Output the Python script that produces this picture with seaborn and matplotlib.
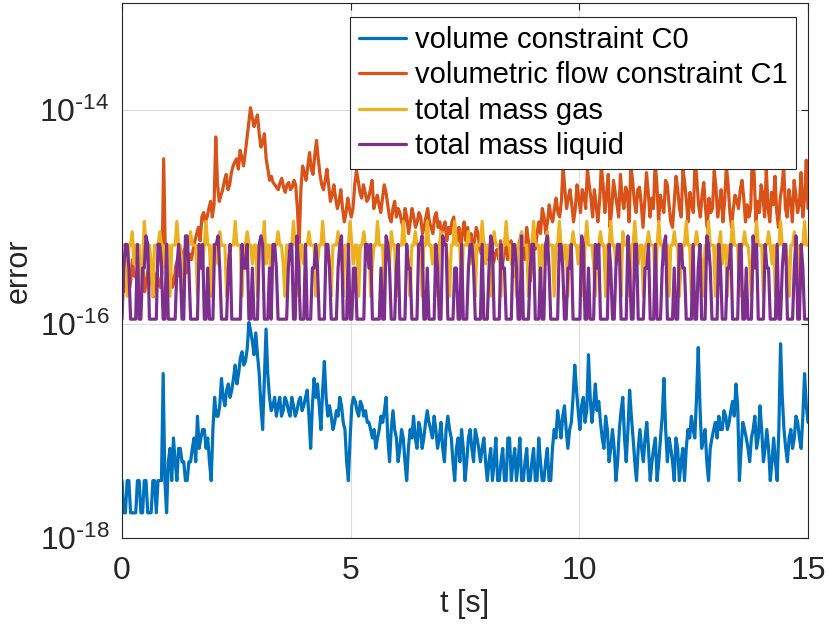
import numpy as np
import pandas as pd
import matplotlib
matplotlib.use("Agg")
import matplotlib.pyplot as plt
import matplotlib.ticker as mticker
import seaborn as sns

# -------------------------
# data
# -------------------------
# volume constraint C0, in units of q_blue
q_blue = 1.72e-18
blue_q = [
    2, 1, 1, 2, 2, 1, 1, 1, 1, 2, 2, 1, 1, 2, 2, 1, 1, 1, 2, 2, 1, 2, 2,
    2, 20, 2, 1, 3, 4, 2, 5, 3, 2, 4, 4, 3, 3, 2, 2, 3, 3,
    4, 5, 3, 8, 4, 5, 6,
    6, 4, 5, 3, 2, 6, 12, 8,
    8, 10, 18, 12, 10, 14, 16, 12,
    14, 18, 24, 16, 20, 28, 32, 24,
    26, 34, 60, 50, 40, 30,
    48, 30, 20, 10, 6, 18, 52, 20,
    12, 9, 10, 12, 8, 10, 12, 8, 9, 12, 11, 9, 8, 12, 10, 8, 9, 11, 12, 9, 10, 12,
    14, 8, 4, 10, 18, 12,
    16, 10, 6, 14, 26, 12, 8, 10,
    8, 6, 7, 9, 8, 12, 10, 7, 6, 3, 2, 5,
    10, 12, 11, 9, 8, 11, 10, 8, 9, 7, 7, 6,
    5, 6, 4, 5, 6, 8, 7, 9,
    12, 5, 3, 6, 9, 6,
    5, 3, 4, 6, 5, 3, 2, 4, 6, 5,
    8, 5, 4, 7, 6, 4, 5, 7,
    9, 7, 6, 5, 8, 6, 4, 5,
    7, 4, 3, 6, 8, 6, 5, 3,
    2, 4, 5, 3, 6, 4, 2, 3, 5, 6, 4, 3,
    6, 5, 4, 3, 4, 5, 3, 2, 3, 4,
    2, 3, 5, 2, 2, 3, 4, 2, 2, 5,
    5, 2, 3, 4, 2, 3, 5, 2,
    2, 3, 4, 2, 2, 3, 4, 2, 2, 5, 3, 2, 2, 3, 4, 2, 2, 4,
    6, 5, 9, 7, 5, 8, 10, 6,
    4, 6, 7, 12, 24, 14, 9, 6,
    10, 12, 7, 9, 30, 12,
    7, 10, 16, 9, 11, 7,
    5, 4, 8, 6, 3, 4, 6, 4,
    2, 3, 6, 9, 12, 5, 3, 6,
    14, 8, 5, 3, 2, 4, 6, 4,
    3, 5, 7, 4, 2, 3, 4, 5,
    2, 3, 5, 8, 18, 6, 3, 5,
    4, 3, 2, 5, 4, 2, 3, 4, 2, 4,
    6, 5, 8, 6, 5, 12, 35, 10,
    4, 5, 6, 3, 2, 4, 5, 6,
    7, 5, 8, 6, 6, 9, 8, 6, 7, 9, 11, 8,
    16, 10, 2, 4, 7, 6,
    5, 4, 3, 5, 6, 8, 4, 5,
    10, 6, 3, 4, 6, 4, 2, 3,
    5, 3, 2, 6, 38, 12, 6, 4,
    3, 5, 6, 4, 5, 8, 7, 5,
    4, 8, 20, 10, 7,
]

# volumetric flow constraint C1, in 1e-16
orange_e16 = [
    # 0 - 5 s
    2.5, 2, 3, 4, 2, 2.5, 4, 2.8, 3, 2, 2.2, 3, 3.5, 2, 2.5, 3.2, 4, 2.5, 1.8, 2.2,
    3, 2.5, 2.2, 3, 35, 4, 2.5, 3.5, 3, 2.2, 2.5, 3.5, 4, 2.8, 3, 4.5, 5, 3, 3.5, 4.5,
    4, 5, 6, 7, 8, 6, 10, 11, 9, 10, 12, 14, 10, 13, 56, 20, 14, 16, 18, 22,
    25, 18, 20, 26, 30, 33, 35, 28, 42, 36, 30, 40, 55, 75, 105, 85, 70, 80, 90, 60,
    45, 50, 60, 35, 28, 22, 24, 21, 20, 19, 18, 21, 23, 19, 17, 20, 21, 18, 19, 22,
    20, 12, 5.5, 18, 30, 26, 22, 30, 40, 28, 25, 38, 52, 35, 25, 20, 18, 22, 28, 20,
    14, 16, 20, 15, 12, 14, 18, 12, 9, 11, 15, 12, 10,
    # 5 - 10 s
    12, 20, 27, 22, 17, 15, 20, 17, 14, 15, 18, 22, 12, 14, 16, 13, 11, 15, 20, 17,
    13, 10, 9, 12, 14, 10, 12,
    11, 9, 8, 12, 10, 7, 9, 12, 10, 8, 9, 11, 10, 7, 8, 10, 12, 9, 8, 7,
    10, 11, 8, 9, 7, 8, 9,
    6, 8, 7, 9, 10, 7, 6, 8, 5, 7, 9, 6, 8, 6, 7, 5, 6, 8, 7, 5,
    4.5, 6, 5, 4, 5, 4.5, 5.5,
    3.8, 4.5, 5, 4, 6, 3.5, 4.5, 7, 4, 5, 6, 3, 2.8, 4, 5, 6, 7, 5, 4, 8,
    6, 2.5, 3.5, 6, 5, 7,
    9, 7, 12, 10, 7, 9, 13, 10, 9, 12, 15, 11, 10, 14, 30, 18, 12, 15, 18, 13,
    9, 12, 20, 15, 11, 18,
    # 10 - 15 s
    16, 12, 28, 20, 15, 10, 18, 13, 9, 14, 30, 20, 11, 16, 25, 8, 12, 22, 17, 13,
    10, 25, 15, 12, 19, 17, 9, 30, 22, 14, 11, 18, 19, 13, 8, 14, 26, 17, 10, 15,
    12, 32, 20, 9, 16, 13, 11, 22, 20, 13, 9, 8, 14, 24, 18, 12, 10, 28, 21, 14,
    9, 17, 13, 11, 35, 22, 13, 10, 16, 21, 12, 8, 15, 11, 12, 27, 19, 10, 13, 18,
    9, 14, 30, 20, 11, 8, 12, 16, 14, 12, 18, 22, 15, 9, 13, 10, 12, 40, 25, 9,
    14, 11, 20, 16, 10, 28, 12, 9, 17, 13, 24, 11, 8, 15, 19, 30, 12, 10, 18, 14,
    9, 22, 16, 11, 13, 26, 10, 15, 34, 12,
]

# total mass gas, in units of q_gas
q_gas = 1.82e-16
gas_q = [
    3, 3, 3, 1, 3, 3, 4, 2, 3, 3, 3, 1, 2, 5, 3, 3, 3, 2, 1, 3,
    3, 3, 4, 3, 3, 2, 3, 3, 1, 3, 3, 3, 5, 3, 3, 2, 1, 3, 3, 3,
    4, 3, 3, 3, 1, 3, 3, 2, 3, 5, 3, 3, 1, 3, 3, 3, 2, 4, 3, 3,
    3, 1, 2, 3, 3, 3, 5, 3, 3, 3, 1, 3, 3, 4, 3, 3, 2, 3, 3, 1,
    3, 3, 3, 5, 2, 3, 3, 1, 3, 3, 3, 4, 3, 3, 2, 1, 3, 3, 3, 3,
    5, 3, 3, 1, 3, 3, 2, 3, 3, 4, 3, 3, 3, 1, 2, 3, 3, 5, 3, 3,
    3, 2, 1, 3, 3, 3, 4, 3, 3, 1, 3, 3, 3, 5, 3, 2, 3, 3, 1, 3,
    3, 4, 3, 3, 3, 1, 2, 3, 3, 5, 3, 3, 3, 1, 3, 3, 2, 4, 3, 3,
    1, 3, 3, 3, 5, 3, 3, 2, 1, 3, 3, 4, 3, 3, 3, 1, 3, 3, 5, 3,
    3, 2, 3, 3, 1, 3, 4, 3, 3, 3, 2, 1, 3, 3, 5, 3, 3, 3, 1, 3,
    3, 3, 4, 2, 3, 3, 1, 3, 3, 3, 5, 3, 2, 3, 3, 1, 3, 4, 3, 3,
    3, 1, 3, 3, 5, 3, 3, 2, 3, 3, 1, 3, 3, 4, 3, 3, 3, 1, 2, 3,
    5, 3, 3, 3, 1, 3, 3, 2, 4, 3, 3, 3, 1, 3, 3, 5, 3, 2, 3, 3,
    1, 3, 3, 4, 3, 3, 2, 3, 3, 1, 3, 5, 3, 3, 3, 2, 1, 3, 3, 4,
    3, 3, 1, 3, 3, 5, 3, 3, 2, 3, 3, 1, 4, 3, 3, 3, 1, 3, 3, 5,
    3, 2, 3, 3, 1, 3, 3, 4, 3, 3, 3, 1, 3, 5, 3, 3, 2, 3, 3, 1,
    3, 3, 4, 3, 3, 1, 2, 3, 3, 5, 3, 3, 1, 3, 3, 4, 3, 3, 2, 1,
    3, 3, 5, 3, 3, 3, 1, 3, 3, 4, 2, 3, 3, 1, 3, 3, 5, 3, 3, 3,
    1, 3, 3, 4, 3, 3, 2, 1, 3, 3, 5, 3, 3, 3, 1, 3, 3, 4, 3, 2,
    3, 1, 3, 3, 5, 3, 3, 3, 2, 1, 3, 3, 4, 3, 3, 1, 3, 3, 5, 3,
    3,
]

# total mass liquid, in units of q_liq
q_liq = 1.11e-16
liq_q = [
    1, 3, 5, 5, 3, 1, 1, 1, 1, 5, 1, 1, 3, 3, 6, 5, 1, 1, 1, 1,
    1, 5, 5, 3, 1, 1, 5, 1, 1, 1, 1, 1, 3, 5, 3, 1, 1, 6, 6, 3,
    1, 1, 1, 1, 1, 5, 3, 5, 1, 1, 3, 1, 1, 1, 5, 5, 6, 3, 1, 1,
    1, 1, 3, 5, 1, 1, 1, 1, 1, 1, 5, 3, 3, 5, 1, 1, 3, 1, 1, 1,
    5, 6, 5, 1, 1, 1, 3, 1, 5, 5, 3, 1, 1, 1, 1, 1, 1, 3, 5, 5,
    1, 1, 6, 3, 1, 1, 1, 5, 1, 1, 1, 3, 3, 5, 3, 1, 1, 1, 1, 5,
    5, 3, 1, 1, 1, 1, 3, 5, 6, 1, 1, 1, 5, 1, 1, 3, 3, 1, 1, 1,
    1, 1, 5, 5, 3, 5, 1, 1, 1, 1, 1, 3, 1, 1, 6, 5, 3, 1, 1, 1,
    3, 5, 1, 1, 1, 1, 5, 3, 3, 1, 1, 1, 1, 5, 5, 6, 1, 1, 3, 1,
    1, 1, 1, 5, 3, 1, 1, 6, 5, 5, 1, 1, 1, 1, 3, 3, 1, 1, 5, 1,
    1, 1, 3, 5, 5, 3, 1, 1, 1, 1, 5, 1, 1, 1, 3, 6, 5, 1, 1, 1,
    1, 5, 3, 3, 1, 1, 1, 1, 5, 5, 3, 1, 1, 6, 1, 1, 1, 1, 3, 5,
    5, 1, 1, 1, 3, 1, 1, 5, 6, 3, 1, 1, 1, 1, 1, 5, 5, 3, 1, 1,
    3, 3, 5, 1, 1, 1, 1, 1, 6, 5, 1, 1, 3, 1, 1, 1, 5, 3, 5, 1,
    1, 1, 1, 1, 5, 3, 1, 1, 3, 5, 5, 1, 1, 1, 1, 6, 3, 1, 1, 5,
    5, 1, 1, 1, 1, 3, 3, 5, 1, 1, 1, 5, 1, 1, 1, 3, 5, 6, 1, 1,
    1, 1, 3, 1, 1, 5, 5, 3, 3, 1, 1, 1, 1, 5, 1, 1, 3, 5, 1, 1,
    1, 6, 5, 3, 1, 1, 1, 1, 5, 3, 1, 1, 1, 3, 3, 5, 1, 1, 1, 1,
    5, 5, 1, 1, 3, 1, 1, 1, 6, 3, 5, 1, 1, 1, 1, 5, 3, 3, 1, 1,
    1, 1, 5, 1, 1, 3, 5, 5, 1, 1, 1, 1, 3, 6, 1, 1, 5, 3, 1, 1,
    1,
]

labels = ["volume constraint C0", "volumetric flow constraint C1",
          "total mass gas", "total mass liquid"]
colors = ["#0072BD", "#D95319", "#EDB120", "#7E2F8E"]

t_end = 15.0

# -------------------------
# long table
# -------------------------
series = [
    np.array(blue_q) * q_blue,
    np.array(orange_e16) * 1e-16,
    np.array(gas_q) * q_gas,
    np.array(liq_q) * q_liq,
]
frames = []
for lab, vals in zip(labels, series):
    frames.append(pd.DataFrame({
        "t": np.linspace(0, t_end, len(vals)),
        "error": vals,
        "series": lab,
    }))
df = pd.concat(frames, ignore_index=True)

# -------------------------
# plot
# -------------------------
sns.set_style("white")
plt.rcParams["font.family"] = ["Liberation Sans", "DejaVu Sans"]
plt.rcParams["mathtext.default"] = "regular"

txt = "#262626"
fig = plt.figure(figsize=(8.3, 6.37), dpi=100)
ax = fig.add_axes([122 / 830, 1 - 538 / 637, 686 / 830, 535 / 637])

sns.lineplot(
    data=df, x="t", y="error", hue="series",
    hue_order=labels, palette=dict(zip(labels, colors)),
    linewidth=2.3, estimator=None, sort=False, legend=False, ax=ax,
)

ax.set_yscale("log")
ax.set_xlim(0, 15)
ax.set_ylim(1e-18, 1e-13)

ax.xaxis.set_major_locator(mticker.FixedLocator([0, 5, 10, 15]))
ax.xaxis.set_minor_locator(mticker.NullLocator())
majors = [1e-18, 1e-16, 1e-14]
ax.yaxis.set_major_locator(mticker.FixedLocator(majors))
ax.yaxis.set_major_formatter(mticker.FixedFormatter(
    [r"$10^{\text{-}18}$", r"$10^{\text{-}16}$", r"$10^{\text{-}14}$"]))
minors = [k * 10.0 ** d for d in range(-18, -13) for k in range(1, 10)]
minors = [m for m in minors if not any(np.isclose(m, M) for M in majors)] + [1e-13]
ax.yaxis.set_minor_locator(mticker.FixedLocator(minors))
ax.yaxis.set_minor_formatter(mticker.NullFormatter())

ax.grid(True, which="major", color="#dcdcdc", linewidth=0.8, linestyle="-")
ax.grid(True, which="minor", axis="y", color="#b8b8b8", linewidth=0.8,
        linestyle=(0, (1, 4)))
ax.set_axisbelow(True)

for s in ax.spines.values():
    s.set_visible(True)
    s.set_color(txt)
    s.set_linewidth(0.8)

ax.tick_params(which="both", direction="in", top=True, right=True,
               colors=txt, labelcolor=txt)
ax.tick_params(which="major", length=5, width=0.8, labelsize=23)
ax.tick_params(axis="x", which="major", pad=13)
ax.tick_params(axis="y", which="major", pad=9)
ax.tick_params(which="minor", length=3, width=0.6)

ax.set_xlabel("t [s]", fontsize=22, color=txt, labelpad=2)
ax.set_ylabel("error", fontsize=22, color=txt, labelpad=4)

handles = [plt.Line2D([], [], color=c, linewidth=2.3) for c in colors]
leg = ax.legend(
    handles, labels, loc="upper right",
    bbox_to_anchor=(796 / 830, 1 - 17 / 637), bbox_transform=fig.transFigure,
    fontsize=21, frameon=True, fancybox=False, framealpha=1,
    edgecolor=txt, handlelength=1.6, handletextpad=0.3,
    labelspacing=0.26, borderpad=0.3, borderaxespad=0,
)
leg.get_frame().set_linewidth(0.8)
for tx in leg.get_texts():
    tx.set_color("black")

fig.savefig("out.png", dpi=100)
plt.close(fig)
